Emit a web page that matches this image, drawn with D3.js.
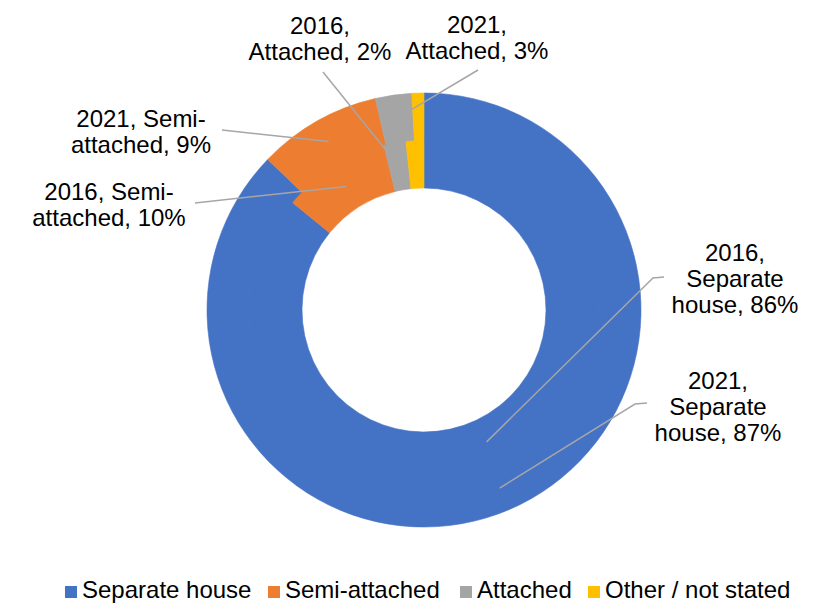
<!DOCTYPE html>
<html>
<head>
<meta charset="utf-8">
<script src="https://cdn.jsdelivr.net/npm/d3@7/dist/d3.min.js"></script>
<style>
  html, body { margin: 0; padding: 0; background: #fff; }
  svg { display: block; font-family: Arial, "Liberation Sans", sans-serif; }
</style>
</head>
<body>
<div id="chart"></div>
<script>
const categories = ['Separate house', 'Semi-attached', 'Attached', 'Other / not stated'];
const years = ['2016', '2021'];            // inner ring, outer ring
const values2016 = [85.9, 10.3, 2.1, 1.7];
const values2021 = [87.2, 9.2, 2.7, 0.9];
const colors = ['#4472C4', '#ED7D31', '#A5A5A5', '#FFC000'];

(function () {
  const W = 824, H = 604;
  const cx = 424, cy = 310;
  const rHole = 122, rMid = 170, rOuter = 217;
  const fontSize = 24, lineH = 26;

  const svg = d3.select('#chart').append('svg')
    .attr('width', W).attr('height', H)
    .attr('viewBox', `0 0 ${W} ${H}`);

  const pie = d3.pie().sort(null).value(d => d).startAngle(0).endAngle(2 * Math.PI);
  const rings = [
    { year: years[0], arcs: pie(values2016), r0: rHole, r1: rMid },
    { year: years[1], arcs: pie(values2021), r0: rMid, r1: rOuter }
  ];

  const g = svg.append('g').attr('transform', `translate(${cx},${cy})`);

  rings.forEach((ring, k) => {
    // inner ring runs a pixel under the outer one so no seam shows
    const arc = d3.arc().innerRadius(ring.r0).outerRadius(ring.r1 + (k === 0 ? 1.5 : 0));
    g.append('g').selectAll('path')
      .data(ring.arcs)
      .enter().append('path')
      .attr('d', arc)
      .attr('fill', (d, i) => colors[i])
      .attr('stroke', (d, i) => colors[i])
      .attr('stroke-width', 0.6);
  });

  // how Excel wrapped each label
  const wrap = [
    (y, p) => [`${y},`, 'Separate', `house, ${p}%`],
    (y, p) => [`${y}, Semi-`, `attached, ${p}%`],
    (y, p) => [`${y},`, `Attached, ${p}%`]
  ];

  // label placement: ring, category, text centre x, first baseline, leader start, stub length
  const labels = [
    { ring: 0, cat: 2, x: 320, y: 34, lx: 323, ly: 72, stub: 0 },
    { ring: 1, cat: 2, x: 477, y: 33, lx: 478, ly: 70, stub: 0 },
    { ring: 1, cat: 1, x: 141, y: 127, lx: 222, ly: 130, stub: 0 },
    { ring: 0, cat: 1, x: 109, y: 200, lx: 195, ly: 203, stub: 0 },
    { ring: 0, cat: 0, x: 735, y: 261, lx: 664, ly: 277, stub: -11 },
    { ring: 1, cat: 0, x: 718, y: 389, lx: 647, ly: 403, stub: -12 }
  ];

  const leaders = svg.append('g')
    .attr('fill', 'none')
    .attr('stroke', '#A6A6A6')
    .attr('stroke-width', 1.5);

  const text = svg.append('g')
    .attr('font-size', fontSize)
    .attr('fill', '#000')
    .attr('text-anchor', 'middle');

  labels.forEach(l => {
    const ring = rings[l.ring];
    const d = ring.arcs[l.cat];
    const rc = (ring.r0 + ring.r1) / 2;
    const a = (d.startAngle + d.endAngle) / 2;
    const px = cx + rc * Math.sin(a), py = cy - rc * Math.cos(a);
    const pts = [[l.lx, l.ly]];
    if (l.stub) pts.push([l.lx + l.stub, l.ly + 1]);
    pts.push([px, py]);
    leaders.append('path').attr('d', d3.line()(pts));

    const pct = Math.round(d.value);
    const lines = wrap[l.cat](ring.year, pct);
    const t = text.append('text').attr('x', l.x).attr('y', l.y);
    lines.forEach((s, i) => {
      t.append('tspan').attr('x', l.x).attr('y', l.y + i * lineH).text(s);
    });
  });

  // legend
  const legendX = [65, 268, 460, 588];
  const legend = svg.append('g').attr('font-size', fontSize);
  categories.forEach((c, i) => {
    legend.append('rect')
      .attr('x', legendX[i]).attr('y', 586)
      .attr('width', 12).attr('height', 12)
      .attr('fill', colors[i]);
    legend.append('text')
      .attr('x', legendX[i] + 17).attr('y', 598)
      .text(c);
  });
})();
</script>
</body>
</html>
